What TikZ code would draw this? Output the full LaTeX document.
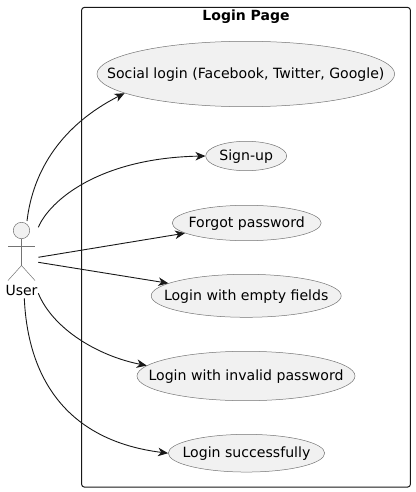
\documentclass[tikz,border=0pt]{standalone}
\usepackage{fontspec}
\setmainfont{DejaVu Sans}
\usetikzlibrary{shapes.geometric,arrows.meta}
\tikzset{>={Stealth[length=10pt,width=8.5pt,inset=3pt]}}
\definecolor{usefill}{HTML}{F1F1F1}
\definecolor{useline}{HTML}{181818}
\newcommand{\casetext}[1]{\makebox[0pt]{#1}}
\tikzset{
  usecase/.style={ellipse,draw=useline!60,fill=usefill,line width=0.5pt,inner sep=0pt,
    text height=12.5pt,text depth=3.5pt,font=\fontsize{14.1}{16}\selectfont},
  link/.style={->,line width=0.9pt,color=useline},
  figure/.style={draw=useline!60,line width=0.5pt}
}

\begin{document}
\begin{tikzpicture}[x=1pt,y=-1pt]
\useasboundingbox (0,0) rectangle (415,492);
\draw[useline,line width=1pt,rounded corners=2.5pt] (81.7,7.5) rectangle (410.3,487);
\node[font=\fontsize{14}{16}\selectfont\bfseries] (title) at (246,17) {Login Page};
\node[usecase,minimum width=297.7pt,minimum height=65.4pt] (social) at (245.8,74) {\casetext{Social login (Facebook, Twitter, Google)}};
\node[usecase,minimum width=81pt,minimum height=29.4pt] (signup) at (246.2,156) {\casetext{Sign-up}};
\node[usecase,minimum width=149pt,minimum height=35.4pt] (forgot) at (246.7,223) {\casetext{Forgot password}};
\node[usecase,minimum width=190pt,minimum height=43pt] (empty) at (246.2,295.8) {\casetext{Login with empty fields}};
\node[usecase,minimum width=218pt,minimum height=49.4pt] (invalid) at (246,376) {\casetext{Login with invalid password}};
\node[usecase,minimum width=156.4pt,minimum height=37.7pt] (success) at (246.5,453.2) {\casetext{Login successfully}};
% actor
\draw[figure,fill=usefill] (21.5,230.5) circle (8.2);
\draw[figure] (21.5,238.7) -- (21.5,265.5) (8,246) -- (35,246);
\draw[figure] (8,280.5) -- (21.5,265.5) -- (35,280.5);
\node[font=\fontsize{14}{16}\selectfont] (user) at (21.5,290) {User};
\coordinate (u1) at (27,221);
\coordinate (u2) at (38.3,227.3);
\coordinate (u3) at (38.3,257.3);
\coordinate (u4) at (38.3,262.3);
\coordinate (u5) at (38.3,293.3);
\coordinate (u6) at (24.3,298.3);
% links
\draw[link] (u1) .. controls (33,170) and (62,125) .. (social.189.25);
\draw[link] (u2) .. controls (50,200) and (100,158) .. (signup.west);
\draw[link] (u3) -- (forgot);
\draw[link] (u4) -- (empty);
\draw[link] (u5) .. controls (53,329) and (98,356) .. (invalid.174.56);
\draw[link] (u6) .. controls (28,382) and (70,441) .. (success.west);
\end{tikzpicture}
\end{document}
